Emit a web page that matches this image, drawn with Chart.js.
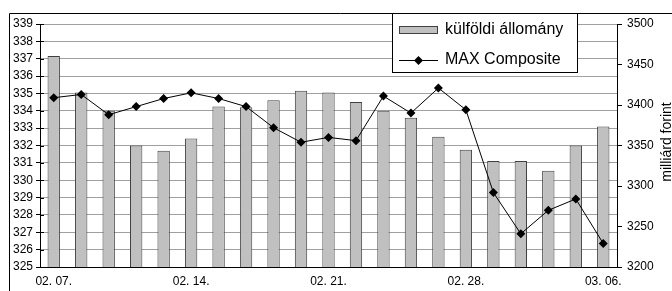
<!DOCTYPE html>
<html>
<head>
<meta charset="utf-8">
<script src="https://cdn.jsdelivr.net/npm/chart.js@4.4.1/dist/chart.umd.min.js"></script>
<style>
  html, body { margin: 0; padding: 0; background: #fff; }
  #wrap { width: 672px; height: 291px; }
</style>
</head>
<body>
<div id="wrap"><canvas id="chart" width="672" height="291"></canvas></div>
<script>
const dates = ['02. 07.', '02. 08.', '02. 09.', '02. 10.', '02. 11.',
  '02. 14.', '02. 15.', '02. 16.', '02. 17.', '02. 18.',
  '02. 21.', '02. 22.', '02. 23.', '02. 24.', '02. 25.',
  '02. 28.', '02. 29.', '03. 01.', '03. 02.', '03. 03.', '03. 06.'];

const holdings = [337.15, 335.05, 334.0, 332.0, 331.7, 332.4, 334.25, 334.2, 334.6, 335.15,
  335.05, 334.5, 334.0, 333.6, 332.5, 331.75, 331.1, 331.1, 330.55, 332.0, 333.1];

const maxComposite = [3409, 3413, 3388, 3398, 3408, 3415, 3408, 3398, 3372, 3354,
  3360, 3356, 3411, 3390, 3421, 3394, 3292, 3241, 3270, 3284, 3229];

const fontFamily = '"Liberation Sans", Arial, sans-serif';

// frame, inner ticks on left axis, legend, right axis title
const extras = {
  id: 'extras',
  afterDraw(chart) {
    const ctx = chart.ctx;
    const y = chart.scales.y;
    ctx.save();

    // inner half of the crossing ticks
    ctx.strokeStyle = '#000';
    ctx.lineWidth = 1;
    y.ticks.forEach((t) => {
      const py = Math.round(y.getPixelForValue(t.value)) + 0.5;
      ctx.beginPath();
      ctx.moveTo(40, py);
      ctx.lineTo(44, py);
      ctx.stroke();
    });

    // outer frame
    ctx.beginPath();
    ctx.moveTo(9.5, 291);
    ctx.lineTo(9.5, 13.5);
    ctx.lineTo(672, 13.5);
    ctx.stroke();

    // legend
    ctx.fillStyle = '#fff';
    ctx.fillRect(392, 13, 186, 60);
    ctx.strokeStyle = '#000';
    ctx.strokeRect(392.5, 13.5, 185, 59);

    const barDs = chart.data.datasets[0];
    const lineDs = chart.data.datasets[1];
    ctx.fillStyle = barDs.backgroundColor;
    ctx.fillRect(399, 26, 39, 8);
    ctx.strokeStyle = barDs.borderColor;
    ctx.strokeRect(399.5, 26.5, 38, 7);

    ctx.strokeStyle = '#000';
    ctx.beginPath();
    ctx.moveTo(399, 60.5);
    ctx.lineTo(438, 60.5);
    ctx.stroke();
    ctx.fillStyle = '#000';
    ctx.beginPath();
    ctx.moveTo(418.5, 56);
    ctx.lineTo(423, 60.5);
    ctx.lineTo(418.5, 65);
    ctx.lineTo(414, 60.5);
    ctx.closePath();
    ctx.fill();

    ctx.font = '16px ' + fontFamily;
    ctx.textBaseline = 'middle';
    ctx.textAlign = 'left';
    ctx.fillText(barDs.label, 445, 30);
    ctx.fillText(lineDs.label, 445, 60);

    // right axis title
    ctx.translate(671, 142);
    ctx.rotate(-Math.PI / 2);
    ctx.font = '14px ' + fontFamily;
    ctx.textAlign = 'center';
    ctx.textBaseline = 'alphabetic';
    ctx.fillStyle = '#000';
    ctx.fillText('milliárd forint', 0, 0);

    ctx.restore();
  }
};

new Chart(document.getElementById('chart'), {
  type: 'bar',
  data: {
    labels: dates,
    datasets: [
      {
        type: 'bar',
        label: 'külföldi állomány',
        data: holdings,
        yAxisID: 'y',
        backgroundColor: '#c0c0c0',
        borderColor: '#404040',
        borderWidth: 1,
        barPercentage: 0.45,
        categoryPercentage: 1,
        order: 1
      },
      {
        type: 'line',
        label: 'MAX Composite',
        data: maxComposite,
        yAxisID: 'y1',
        borderColor: '#000',
        borderWidth: 1,
        backgroundColor: '#000',
        pointStyle: 'rectRot',
        pointRadius: 4.5,
        pointBorderWidth: 0,
        tension: 0,
        order: 0
      }
    ]
  },
  options: {
    responsive: false,
    animation: false,
    devicePixelRatio: 1,
    layout: { padding: { top: 24, left: 0, right: 0, bottom: 0 } },
    plugins: {
      legend: { display: false },
      tooltip: { enabled: false },
      title: { display: false }
    },
    scales: {
      x: {
        offset: true,
        grid: { display: false, offset: true, drawTicks: false, tickLength: 0 },
        border: { display: true, color: '#000', width: 1 },
        ticks: {
          autoSkip: false,
          maxRotation: 0,
          padding: 7,
          color: '#000',
          font: { family: fontFamily, size: 12 },
          callback: function (val, i) { return i % 5 === 0 ? dates[i] : ''; }
        },
        afterFit: (s) => { s.height = 24; }
      },
      y: {
        position: 'left',
        min: 325,
        max: 339,
        grid: { color: '#a0a0a0', lineWidth: 1, tickLength: 4, tickColor: '#000' },
        border: { display: true, color: '#000', width: 1 },
        ticks: {
          stepSize: 1,
          autoSkip: false,
          padding: 3,
          color: '#000',
          font: { family: fontFamily, size: 12 }
        },
        afterFit: (s) => { s.width = 40; }
      },
      y1: {
        position: 'right',
        min: 3200,
        max: 3500,
        grid: { drawOnChartArea: false, tickLength: 5, tickColor: '#000' },
        border: { display: true, color: '#000', width: 1 },
        ticks: {
          stepSize: 50,
          autoSkip: false,
          padding: 5,
          color: '#000',
          font: { family: fontFamily, size: 12 },
          callback: (v) => String(v)
        },
        afterFit: (s) => { s.width = 55; }
      }
    }
  },
  plugins: [extras]
});
</script>
</body>
</html>
